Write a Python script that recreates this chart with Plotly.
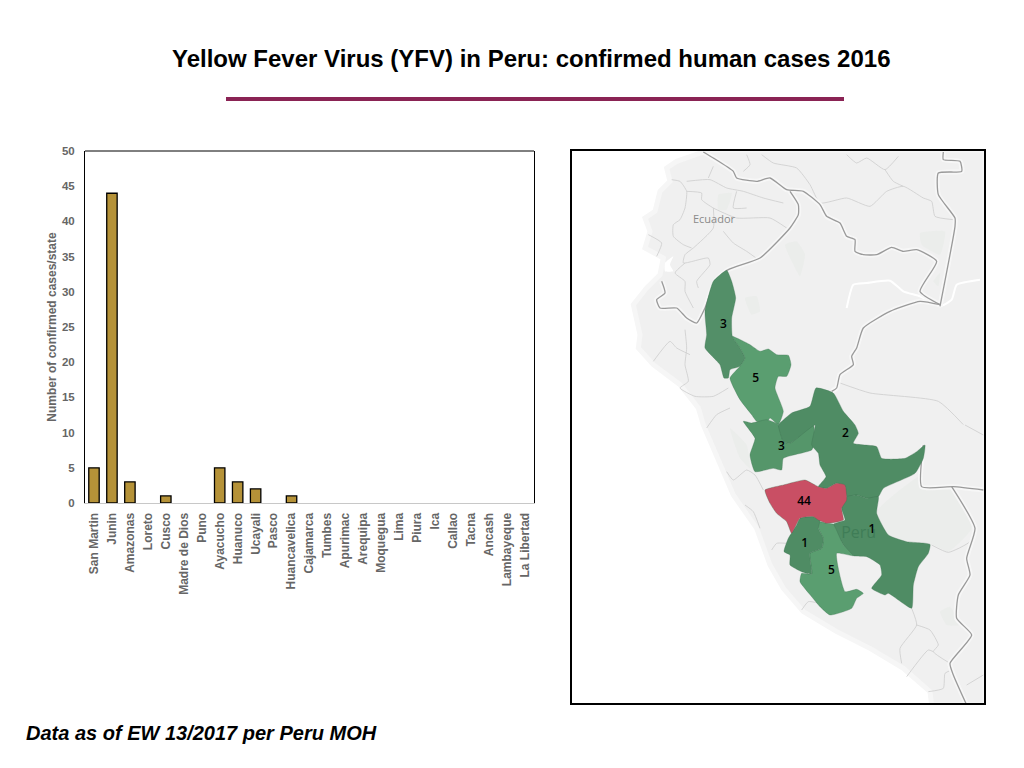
import plotly.graph_objects as go

# ---- bar chart data ----
states = ["San Martin", "Junin", "Amazonas", "Loreto", "Cusco", "Madre de Dios", "Puno", "Ayacucho",
          "Huanuco", "Ucayali", "Pasco", "Huancavelica", "Cajamarca", "Tumbes", "Apurimac", "Arequipa",
          "Moquegua", "Lima", "Piura", "Ica", "Callao", "Tacna", "Ancash", "Lambayeque", "La Libertad"]
cases = [5, 44, 3, 0, 1, 0, 0, 5, 3, 2, 0, 1, 0, 0, 0, 0, 0, 0, 0, 0, 0, 0, 0, 0, 0]
y_ticks = [0, 5, 10, 15, 20, 25, 30, 35, 40, 45, 50]

TITLE = "Yellow Fever Virus (YFV) in Peru: confirmed human cases 2016"
NOTE = "Data as of EW 13/2017 per Peru MOH"
Y_TITLE = "Number of confirmed cases/state"


# ---- map geometry, in map grid units (south part is listed relative to row 831) ----
def low(pts):
    return [(a, b + 831) for a, b in pts]


land = [(400, 12), (320, 40), (290, 60), (300, 100), (270, 130), (255, 190), (225, 210), (240, 250), (225, 300),
        (280, 330), (270, 380), (230, 420), (190, 470), (210, 560), (205, 600), (250, 650), (330, 710), (385, 780)] + low(
    [(400, 0), (430, 70), (490, 210), (560, 310), (600, 420), (640, 490), (700, 560), (800, 620), (900, 670),
     (1000, 730), (1080, 800), (1085, 840), (1245, 840)]) + [(1245, 6), (400, 6)]

lakes = [[(285, 345), (310, 325), (300, 350), (310, 370), (285, 370)]]
rivers = [[(830, 480), (850, 410), (890, 405), (960, 398), (1000, 430), (1050, 445), (1110, 475), (1145, 455), (1160, 410), (1230, 395)]]
reserves = [[(645, 290), (680, 280), (705, 320), (690, 385), (665, 340)],
            [(525, 450), (560, 445), (570, 490), (545, 500)],
            [(1050, 255), (1125, 250), (1110, 320), (1055, 290)],
            [(445, 140), (485, 135), (470, 185), (445, 185)],
            [(1090, 400), (1110, 375), (1105, 415)]] + [low(p) for p in [
    [(920, 260), (1055, 150), (1060, 185), (1145, 190), (1205, 310), (1135, 380), (1085, 358), (1010, 350), (955, 330)],
    [(480, 10), (530, 60), (540, 130), (510, 100)],
    [(1110, 560), (1140, 545), (1170, 600), (1130, 600)]]]

thin_lines = [
    [(305, 95), (330, 100), (350, 130), (345, 180), (330, 215), (310, 230), (310, 265), (340, 290), (365, 300)],
    [(350, 100), (420, 95), (470, 120), (520, 130), (580, 150), (640, 165)],
    [(350, 130), (395, 135), (395, 155), (430, 180), (500, 210), (600, 210), (650, 240)],
    [(430, 180), (430, 240), (370, 300), (345, 320), (340, 345), (415, 330), (420, 350), (380, 400), (385, 420)],
    [(460, 250), (490, 285), (530, 310), (565, 335)],
    [(235, 260), (275, 285), (260, 325)],
    [(345, 345), (315, 375), (345, 400), (345, 430), (370, 480)],
    [(430, 55), (415, 90)],
    [(500, 130), (490, 180), (530, 180)],
    [(345, 545), (350, 600), (345, 650), (355, 700), (330, 720), (375, 745), (430, 745), (475, 720)],
    [(250, 640), (300, 580), (320, 600), (360, 620)],
    [(530, 20), (540, 50), (520, 70)],
    [(575, 20), (610, 45), (680, 60), (720, 110), (750, 165), (830, 150), (900, 175), (950, 130), (1000, 115),
     (1060, 150), (1085, 160), (1095, 205), (1150, 215)],
    [(830, 20), (860, 45), (890, 30), (945, 65), (985, 25)],
    [(945, 65), (970, 100), (1000, 115)],
    [(810, 705), (900, 735), (1105, 760), (1180, 830)],
    [(480, 780), (440, 800), (410, 840)],
] + [low(p) for p in [
    [(470, 140), (490, 165), (530, 135), (555, 150), (580, 195)],
    [(525, 240), (550, 260), (570, 310)],
    [(605, 375), (620, 355), (650, 355)],
    [(695, 555), (715, 530), (750, 535)],
    [(1025, 550), (1040, 600), (990, 670), (995, 715)],
    [(1040, 600), (1080, 615), (1105, 660), (1090, 680), (1140, 715)],
    [(1010, 755), (1075, 675), (1090, 680)],
    [(1075, 800), (1120, 790), (1125, 745), (1145, 735)],
    [(1190, 780), (1240, 750)],
    [(1085, 360), (1135, 382), (1200, 350), (1215, 310)],
    [(1185, 0), (1240, 30)],
]]

borders = [
    [(400, 12), (430, 30), (490, 70), (500, 90), (560, 100), (600, 90), (650, 125), (700, 130), (750, 170), (770, 205),
     (810, 225), (830, 265), (855, 275), (855, 310), (880, 320), (920, 320), (965, 298), (1000, 310), (1040, 305),
     (1100, 340), (1050, 430), (1110, 470)],
    [(1120, 12), (1120, 35), (1170, 40), (1175, 70), (1105, 75), (1105, 140), (1155, 210), (1155, 235), (1110, 475)],
    [(1110, 470), (1050, 460), (960, 490), (880, 540), (860, 600), (845, 625), (850, 650), (810, 680), (800, 720), (785, 730)],
    [(660, 130), (685, 170), (685, 200), (660, 240), (570, 330), (475, 365), (435, 400), (405, 480), (380, 525),
     (350, 510), (320, 480), (270, 480), (260, 455), (285, 435), (275, 400)],
] + [low(p) for p in [
    [(1060, 60), (1055, 185), (1150, 185), (1240, 195)],
    [(1145, 185), (1215, 310), (1190, 400), (1200, 450), (1165, 510), (1160, 580), (1205, 630), (1140, 715),
     (1150, 750), (1190, 840)],
]]

amazonas_map = [(470, 367), (485, 400), (497, 450), (485, 510), (487, 565), (510, 600), (525, 630), (510, 655), (480, 665),
                (475, 690), (462, 690), (450, 650), (405, 600), (410, 560), (405, 490), (430, 400)]
sanmartin_map = [(487, 565), (540, 590), (570, 610), (595, 603), (620, 620), (655, 622), (663, 650), (650, 685), (625, 685),
                 (615, 720), (640, 790), (625, 830), (600, 810), (590, 825), (560, 820), (545, 800), (510, 755), (480, 690),
                 (510, 655), (525, 630), (510, 600)]
huanuco_map = [(520, 820), (545, 825), (590, 815), (625, 830)] + low([(640, 50), (660, 55), (730, 0), (735, 50), (725, 75), (640, 100),
               (635, 135), (610, 130), (555, 140), (540, 90), (555, 40)])
ucayali_map = [(630, 825), (665, 795), (720, 775), (738, 720), (790, 735), (820, 790), (855, 831)] + low(
    [(865, 25), (850, 55), (920, 65), (935, 100), (1005, 100), (1040, 80), (1065, 60), (1060, 100), (1035, 145), (940, 190),
     (925, 215), (890, 220), (860, 210), (830, 215), (825, 185), (800, 175), (770, 190), (745, 185), (768, 155), (750, 120),
     (745, 85), (725, 60), (735, 0), (660, 55), (640, 50), (625, 0)])
junin_map = low([(585, 195), (640, 180), (705, 165), (745, 185), (770, 190), (800, 175), (825, 180), (830, 225), (815, 250),
                 (820, 285), (770, 295), (745, 285), (730, 275), (690, 280), (665, 325), (650, 290), (620, 265), (600, 235)])
cusco_map = low([(790, 298), (825, 285), (815, 250), (830, 215), (860, 210), (890, 220), (925, 215), (920, 265), (955, 330),
                 (1010, 350), (1080, 358), (1075, 385), (1045, 425), (1030, 480), (1025, 550), (955, 505), (945, 510), (905, 490),
                 (935, 450), (930, 420), (890, 395), (850, 392), (820, 360)])
huancavelica_map = low([(690, 280), (730, 275), (750, 285), (745, 310), (760, 340), (755, 370), (720, 385), (725, 447), (695, 440),
                        (660, 420), (660, 390), (642, 380), (655, 340), (680, 300)])
ayacucho_map = low([(745, 290), (770, 295), (790, 298), (820, 360), (850, 392), (800, 385), (825, 500), (860, 493), (880, 505),
                    (860, 520), (845, 550), (780, 570), (750, 545), (725, 515), (690, 470), (695, 445), (725, 447), (720, 385),
                    (755, 370), (760, 340), (745, 310)])

DARK, MID, RED = "#4f8c64", "#5a9e70", "#c94f64"
regions = [(amazonas_map, "#538f68"), (sanmartin_map, MID), (huanuco_map, "#55966a"), (ucayali_map, DARK),
           (cusco_map, DARK), (ayacucho_map, MID), (huancavelica_map, "#4f8c64"), (junin_map, RED)]

map_label_text = ["3", "5", "3", "2", "44", "1", "1", "5"]
map_label_x = [460, 557, 634, 826, 702, 906, 704, 784]
map_label_y = [531, 692, 896, 857, 1061, 1146, 1187, 1270]

fig = go.Figure()
fig.add_trace(go.Bar(x=states, y=cases, width=0.58,
                     marker=dict(color="#b59238", line=dict(color="#000000", width=[1.3 if v > 0 else 0 for v in cases])),
                     xaxis="x", yaxis="y", showlegend=False))


def poly(pts, fill, line="rgba(0,0,0,0)", lw=0, smooth=True):
    line_style = dict(color=line, width=lw)
    if smooth:
        line_style.update(shape="spline", smoothing=0.45)
    fig.add_trace(go.Scatter(x=[p[0] for p in pts] + [pts[0][0]], y=[p[1] for p in pts] + [pts[0][1]], mode="lines",
                             fill="toself", fillcolor=fill, line=line_style, xaxis="x2", yaxis="y2",
                             showlegend=False, hoverinfo="skip"))


def path(pts, color, lw):
    fig.add_trace(go.Scatter(x=[p[0] for p in pts], y=[p[1] for p in pts], mode="lines", line=dict(color=color, width=lw, shape="spline", smoothing=0.5),
                             xaxis="x2", yaxis="y2", showlegend=False, hoverinfo="skip"))


poly(land, "#f0f0f0", "#f6f6f6", 5, smooth=False)
for p in reserves:
    poly(p, "#ebedeb")
for p in lakes:
    poly(p, "#ffffff")
for p in rivers:
    path(p, "#ffffff", 2)
for p in thin_lines:
    path(p, "#cdcdcd", 0.8)
for p in borders:
    path(p, "#f7f7f7", 5)
for p in borders:
    path(p, "#9a9a9a", 1.3)
for pts, color in regions:
    poly(pts, color, "rgba(60,110,80,0.45)", 0.7)

fig.add_trace(go.Scatter(x=[432], y=[218], mode="text", text=["Ecuador"], textfont=dict(family="Open Sans", size=11, color="#8a8a8a"),
                         xaxis="x2", yaxis="y2", showlegend=False, hoverinfo="skip"))
fig.add_trace(go.Scatter(x=[866], y=[1158], mode="text", text=["Perú"], textfont=dict(family="Open Sans", size=16, color="#3f7d57"),
                         xaxis="x2", yaxis="y2", showlegend=False, hoverinfo="skip"))
fig.add_trace(go.Scatter(x=map_label_x, y=map_label_y, mode="text", text=map_label_text,
                         textfont=dict(family="Open Sans", size=12, color="#000000", weight=600), xaxis="x2", yaxis="y2",
                         showlegend=False, hoverinfo="skip"))

W, H = 1024, 768
fig.update_layout(
    width=W, height=H, margin=dict(l=0, r=0, t=0, b=0, pad=0, autoexpand=False), paper_bgcolor="#ffffff", plot_bgcolor="#ffffff",
    bargap=0.42,
    xaxis=dict(domain=[85 / W, 534 / W], anchor="y", tickangle=-90, showgrid=False, showline=True, linecolor="#c8c8c8",
               linewidth=1, ticks="", ticklabelstandoff=4, tickfont=dict(family="Liberation Sans", size=12, color="#666666", weight="bold"),
               tickmode="array", tickvals=states, ticktext=states, range=[-0.5, 24.5]),
    yaxis=dict(domain=[1 - 503 / H, 1 - 151 / H], anchor="x", range=[0, 50], tickvals=y_ticks, showgrid=False, zeroline=False,
               showline=True, mirror=True, linecolor="#000000", linewidth=1, ticks="", ticklen=0, ticklabelstandoff=7,
               tickfont=dict(family="Liberation Sans", size=11.5, color="#666666", weight="bold"),
               title=dict(text=Y_TITLE, font=dict(family="Liberation Sans", size=12, color="#666666", weight="bold"), standoff=2)),
    xaxis2=dict(domain=[571 / W, 985 / W], anchor="y2", range=[3, 1245], visible=False, fixedrange=True),
    yaxis2=dict(domain=[1 - 704 / H, 1 - 150 / H], anchor="x2", range=[1668, 6], visible=False, fixedrange=True),
    shapes=[
        dict(type="line", xref="x domain", yref="y domain", x0=0, x1=1, y0=1, y1=1, line=dict(color="#000000", width=1)),
        dict(type="rect", xref="paper", yref="paper", x0=571 / W, x1=985 / W, y0=1 - 704 / H, y1=1 - 150 / H,
             line=dict(color="#000000", width=2)),
        dict(type="line", xref="paper", yref="paper", x0=226 / W, x1=844 / W, y0=1 - 99 / H, y1=1 - 99 / H,
             line=dict(color="#8a2354", width=4)),
    ],
    annotations=[
        dict(text=TITLE, xref="paper", yref="paper", x=531 / W, y=1 - 58 / H, xanchor="center", yanchor="middle", showarrow=False,
             font=dict(family="Liberation Sans", size=24, color="#000000", weight="bold")),
        dict(text="<i>" + NOTE + "</i>", xref="paper", yref="paper", x=23.5 / W, y=1 - 733 / H, xanchor="left", yanchor="middle",
             showarrow=False, font=dict(family="Liberation Sans", size=20, color="#000000", weight="bold")),
    ],
)
fig.write_html("out.html", post_script="document.body.style.margin='0';", config={"displayModeBar": False})
